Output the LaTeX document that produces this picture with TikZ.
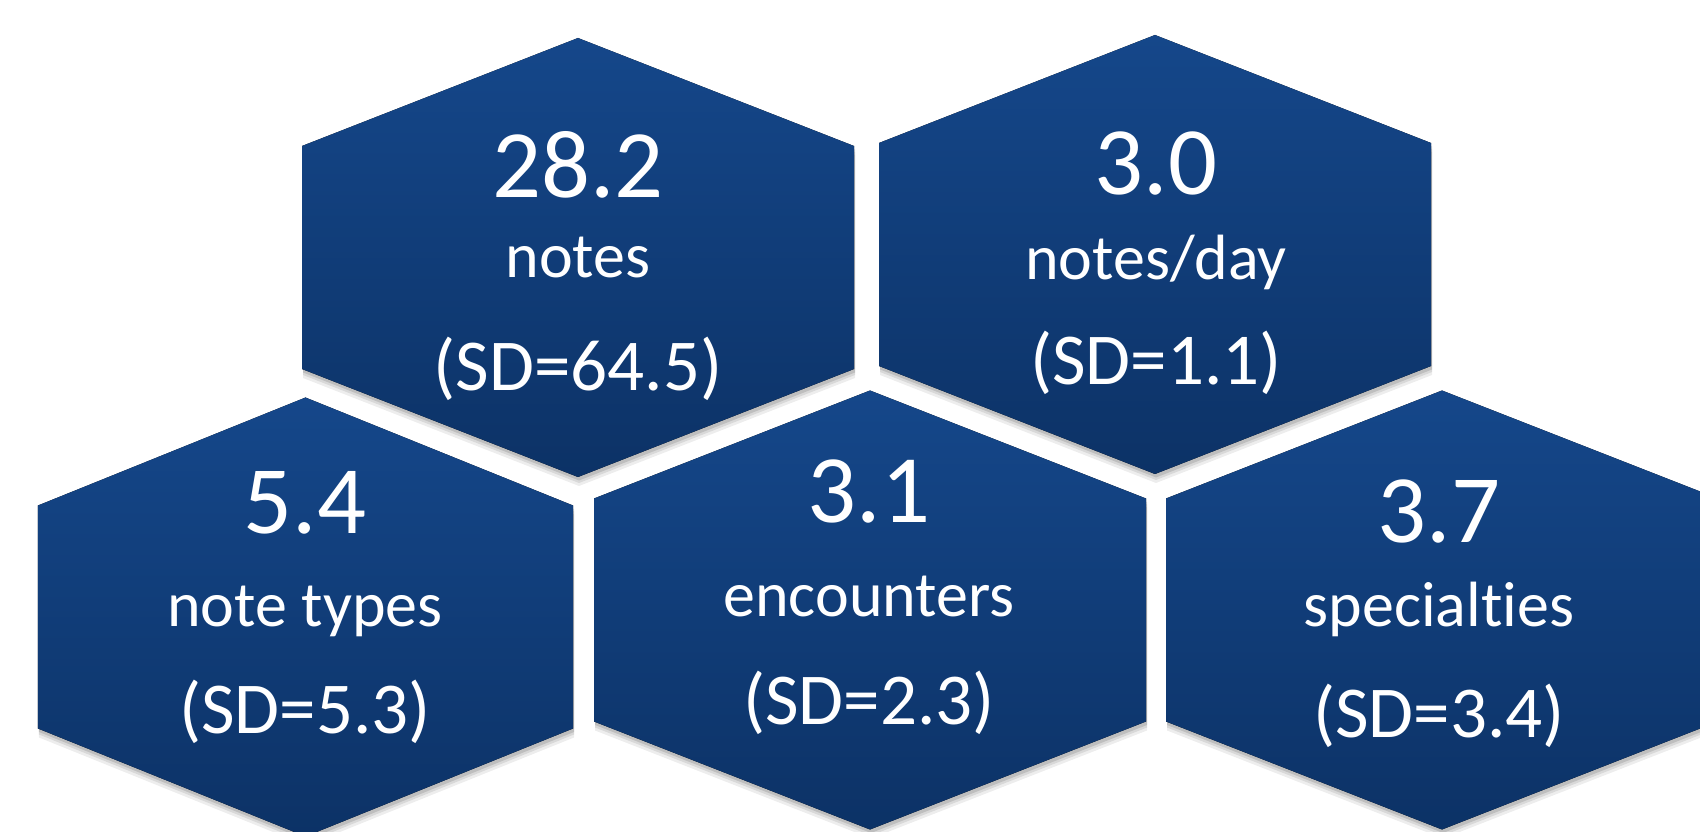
\documentclass[tikz,border=0pt]{standalone}
\usepackage{fontspec}
\setmainfont{Carlito}[Ligatures=NoCommon]
\usepackage{tikz}
\usetikzlibrary{shadows}

\definecolor{hextop}{RGB}{21,71,138}
\definecolor{hexbot}{RGB}{12,50,102}

\tikzset{
  hexfill/.style={top color=hextop, bottom color=hexbot,
    drop shadow={shadow xshift=0.1mm, shadow yshift=-0.9mm, opacity=0.07, fill=black},
    drop shadow={shadow xshift=0.1mm, shadow yshift=-0.6mm, opacity=0.09, fill=black},
    drop shadow={shadow xshift=0.1mm, shadow yshift=-0.35mm, opacity=0.12, fill=black}},
  bignum/.style={anchor=base, text=white, font=\fontsize{27.5}{30}\selectfont},
  what/.style={anchor=base, text=white, font=\fontsize{18.2}{20}\selectfont},
  sdev/.style={anchor=base, text=white, font=\fontsize{20.8}{23}\selectfont},
}

% hexagon: centre x, centre y, half width
\newcommand{\hexa}[3]{%
  \fill[hexfill] (#1,#2) ++(0,2.195) -- ++(#3,-1.08) -- ++(0,-2.23)
    -- ++(-#3,-1.08) -- ++(-#3,1.08) -- ++(0,2.23) -- cycle;
}

\begin{document}
\begin{tikzpicture}
	%\draw [help lines] (0,0) grid (17,8);
	\useasboundingbox (0,0) rectangle (17,8.31);
	\clip (0,0) rectangle (17,8.31);
	%Top row
	\hexa{5.78}{5.735}{2.76}
	\hexa{11.55}{5.765}{2.76}
	%Bottom row
	\hexa{3.055}{2.14}{2.675}
	\hexa{8.70}{2.21}{2.76}
	\hexa{14.42}{2.21}{2.76}
	%Notes
	\node [bignum] (notesnum) at (5.78,6.33) {28.2};
	\node [what] (notes) at (5.78,5.53) {notes};
	\node [sdev] (notessd) at (5.78,4.40) {(SD=64.5)};
	%Notes per day
	\node [bignum] (daynum) at (11.56,6.36) {3.0};
	\node [what] (day) at (11.56,5.51) {notes/day};
	\node [sdev] (daysd) at (11.56,4.46) {(SD=1.1)};
	%Note types
	\node [bignum] (typenum) at (3.05,2.98) {5.4};
	\node [what] (type) at (3.05,2.05) {note types};
	\node [sdev] (typesd) at (3.05,0.98) {(SD=5.3)};
	%Encounters
	\node [bignum] (encnum) at (8.69,3.08) {3.1};
	\node [what] (enc) at (8.69,2.15) {encounters};
	\node [sdev] (encsd) at (8.69,1.07) {(SD=2.3)};
	%Specialties
	\node [bignum] (specnum) at (14.39,2.89) {3.7};
	\node [what] (spec) at (14.39,2.05) {specialties};
	\node [sdev] (specsd) at (14.39,0.94) {(SD=3.4)};
\end{tikzpicture}
\end{document}
